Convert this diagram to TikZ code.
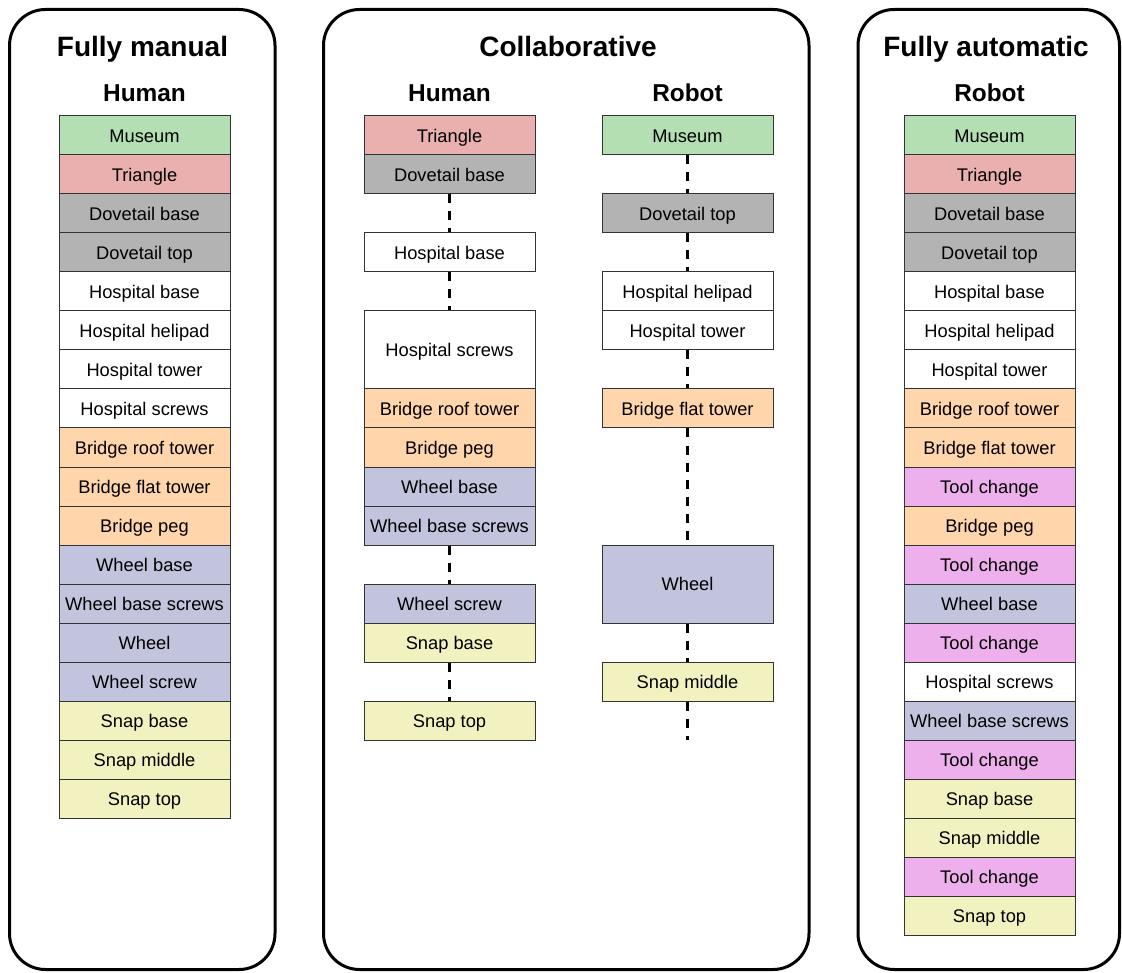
\documentclass[tikz,border=0pt]{standalone}
\usepackage{fontspec}
\setmainfont{Liberation Sans}
\definecolor{museumgreen}{RGB}{179,223,179}
\definecolor{trianglered}{RGB}{234,176,176}
\definecolor{dovetailgray}{RGB}{179,179,179}
\definecolor{bridgeorange}{RGB}{255,213,172}
\definecolor{wheelblue}{RGB}{193,196,220}
\definecolor{snapyellow}{RGB}{242,242,192}
\definecolor{toolpink}{RGB}{238,176,236}
\begin{document}
\begin{tikzpicture}[x=1pt,y=-1pt,
    cell/.style={draw=black!80,line width=1pt,minimum width=171pt,minimum height=39pt,
      inner sep=0pt,text height=13.1pt,text depth=0pt,font=\fontsize{18.3}{21}\selectfont},
    tall/.style={cell,minimum height=78pt},
    panel/.style={draw=black,line width=3pt,rounded corners=36pt},
    title/.style={anchor=base,font=\fontsize{28}{32}\selectfont\bfseries},
    role/.style={anchor=base,font=\fontsize{24.4}{28}\selectfont\bfseries},
    link/.style={draw=black,line width=3pt,dash pattern=on 9pt off 8pt}]
      \useasboundingbox (0,0) rectangle (1122,973);
      % panels
      \draw[panel] (9.5,9.5) rectangle (275,969.5);
      \draw[panel] (323.5,9.5) rectangle (809,969.5);
      \draw[panel] (858,9.5) rectangle (1119.5,969.5);
      \path
        (142.5,57) node[title] (tmanual){Fully manual}
        (568,57) node[title] (tcollab){Collaborative}
        (986,57) node[title] (tauto){Fully automatic}
        (144.5,102) node[role] (rmanual){Human}
        (449.5,102) node[role] (rhuman){Human}
        (687.5,102) node[role] (rrobot){Robot}
        (989.5,102) node[role] (rauto){Robot};
      % fully manual
      \path
        (144.5,135.5) node[cell,fill=museumgreen] (m0){Museum}
        (144.5,174.5) node[cell,fill=trianglered] (m1){Triangle}
        (144.5,213.5) node[cell,fill=dovetailgray] (m2){Dovetail base}
        (144.5,252.5) node[cell,fill=dovetailgray] (m3){Dovetail top}
        (144.5,291.5) node[cell,fill=white] (m4){Hospital base}
        (144.5,330.5) node[cell,fill=white] (m5){Hospital helipad}
        (144.5,369.5) node[cell,fill=white] (m6){Hospital tower}
        (144.5,408.5) node[cell,fill=white] (m7){Hospital screws}
        (144.5,447.5) node[cell,fill=bridgeorange] (m8){Bridge roof tower}
        (144.5,486.5) node[cell,fill=bridgeorange] (m9){Bridge flat tower}
        (144.5,525.5) node[cell,fill=bridgeorange] (m10){Bridge peg}
        (144.5,564.5) node[cell,fill=wheelblue] (m11){Wheel base}
        (144.5,603.5) node[cell,fill=wheelblue] (m12){Wheel base screws}
        (144.5,642.5) node[cell,fill=wheelblue] (m13){Wheel}
        (144.5,681.5) node[cell,fill=wheelblue] (m14){Wheel screw}
        (144.5,720.5) node[cell,fill=snapyellow] (m15){Snap base}
        (144.5,759.5) node[cell,fill=snapyellow] (m16){Snap middle}
        (144.5,798.5) node[cell,fill=snapyellow] (m17){Snap top};
      % collaborative, human
      \path
        (449.5,135.5) node[cell,fill=trianglered] (h0){Triangle}
        (449.5,174.5) node[cell,fill=dovetailgray] (h1){Dovetail base}
        (449.5,252.5) node[cell,fill=white] (h2){Hospital base}
        (449.5,350) node[tall,fill=white] (h3){Hospital screws}
        (449.5,408.5) node[cell,fill=bridgeorange] (h4){Bridge roof tower}
        (449.5,447.5) node[cell,fill=bridgeorange] (h5){Bridge peg}
        (449.5,486.5) node[cell,fill=wheelblue] (h6){Wheel base}
        (449.5,525.5) node[cell,fill=wheelblue] (h7){Wheel base screws}
        (449.5,603.5) node[cell,fill=wheelblue] (h8){Wheel screw}
        (449.5,642.5) node[cell,fill=snapyellow] (h9){Snap base}
        (449.5,720.5) node[cell,fill=snapyellow] (h10){Snap top};
      % collaborative, robot
      \path
        (687.5,135.5) node[cell,fill=museumgreen] (r0){Museum}
        (687.5,213.5) node[cell,fill=dovetailgray] (r1){Dovetail top}
        (687.5,291.5) node[cell,fill=white] (r2){Hospital helipad}
        (687.5,330.5) node[cell,fill=white] (r3){Hospital tower}
        (687.5,408.5) node[cell,fill=bridgeorange] (r4){Bridge flat tower}
        (687.5,584) node[tall,fill=wheelblue] (r5){Wheel}
        (687.5,681.5) node[cell,fill=snapyellow] (r6){Snap middle};
      \coordinate (rend) at (687.5,740);
      % fully automatic
      \path
        (989.5,135.5) node[cell,fill=museumgreen] (a0){Museum}
        (989.5,174.5) node[cell,fill=trianglered] (a1){Triangle}
        (989.5,213.5) node[cell,fill=dovetailgray] (a2){Dovetail base}
        (989.5,252.5) node[cell,fill=dovetailgray] (a3){Dovetail top}
        (989.5,291.5) node[cell,fill=white] (a4){Hospital base}
        (989.5,330.5) node[cell,fill=white] (a5){Hospital helipad}
        (989.5,369.5) node[cell,fill=white] (a6){Hospital tower}
        (989.5,408.5) node[cell,fill=bridgeorange] (a7){Bridge roof tower}
        (989.5,447.5) node[cell,fill=bridgeorange] (a8){Bridge flat tower}
        (989.5,486.5) node[cell,fill=toolpink] (a9){Tool change}
        (989.5,525.5) node[cell,fill=bridgeorange] (a10){Bridge peg}
        (989.5,564.5) node[cell,fill=toolpink] (a11){Tool change}
        (989.5,603.5) node[cell,fill=wheelblue] (a12){Wheel base}
        (989.5,642.5) node[cell,fill=toolpink] (a13){Tool change}
        (989.5,681.5) node[cell,fill=white] (a14){Hospital screws}
        (989.5,720.5) node[cell,fill=wheelblue] (a15){Wheel base screws}
        (989.5,759.5) node[cell,fill=toolpink] (a16){Tool change}
        (989.5,798.5) node[cell,fill=snapyellow] (a17){Snap base}
        (989.5,837.5) node[cell,fill=snapyellow] (a18){Snap middle}
        (989.5,876.5) node[cell,fill=toolpink] (a19){Tool change}
        (989.5,915.5) node[cell,fill=snapyellow] (a20){Snap top};
      \begin{scope}[link]
        \draw (h1) to (h2);
        \draw (h2) to (h3);
        \draw (h7) to (h8);
        \draw (h9) to (h10);
        \draw (r0) to (r1);
        \draw (r1) to (r2);
        \draw (r3) to (r4);
        \draw (r4) to (r5);
        \draw (r5) to (r6);
        \draw (r6) to (rend);
      \end{scope}
    \end{tikzpicture}
\end{document}
